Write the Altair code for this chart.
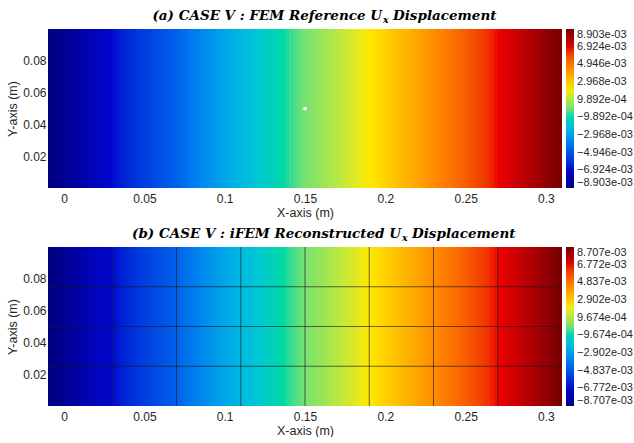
import altair as alt
import numpy as np
import pandas as pd

# Plate extent (m)
x_min, x_max = -0.01, 0.31
y_min, y_max = 0.0, 0.1

# U_x displacement (x 1e-3 m) sampled along the plate length, one value per strip
ux_fem_e3 = [
    -8.83, -8.69, -8.56, -8.42, -8.28, -8.14, -8.00, -7.86,
    -7.72, -7.58, -7.44, -7.30, -7.16, -7.02, -6.89, -6.75,
    -6.61, -6.47, -6.33, -6.19, -6.05, -5.91, -5.77, -5.63,
    -5.49, -5.36, -5.22, -5.08, -4.94, -4.80, -4.66, -4.52,
    -4.38, -4.24, -4.10, -3.96, -3.83, -3.69, -3.55, -3.41,
    -3.27, -3.13, -2.99, -2.85, -2.71, -2.57, -2.43, -2.30,
    -2.16, -2.02, -1.88, -1.74, -1.60, -1.46, -1.32, -1.18,
    -1.04, -0.90, -0.77, -0.63, -0.49, -0.35, -0.21, -0.07,
    0.07, 0.21, 0.35, 0.49, 0.63, 0.77, 0.90, 1.04,
    1.18, 1.32, 1.46, 1.60, 1.74, 1.88, 2.02, 2.16,
    2.30, 2.43, 2.57, 2.71, 2.85, 2.99, 3.13, 3.27,
    3.41, 3.55, 3.69, 3.83, 3.96, 4.10, 4.24, 4.38,
    4.52, 4.66, 4.80, 4.94, 5.08, 5.22, 5.36, 5.49,
    5.63, 5.77, 5.91, 6.05, 6.19, 6.33, 6.47, 6.61,
    6.75, 6.89, 7.02, 7.16, 7.30, 7.44, 7.58, 7.72,
    7.86, 8.00, 8.14, 8.28, 8.42, 8.56, 8.69, 8.83,
]
ux_ifem_e3 = [
    -8.64, -8.50, -8.37, -8.23, -8.09, -7.96, -7.82, -7.69,
    -7.55, -7.41, -7.28, -7.14, -7.01, -6.87, -6.73, -6.60,
    -6.46, -6.33, -6.19, -6.05, -5.92, -5.78, -5.65, -5.51,
    -5.37, -5.24, -5.10, -4.97, -4.83, -4.69, -4.56, -4.42,
    -4.29, -4.15, -4.01, -3.88, -3.74, -3.61, -3.47, -3.33,
    -3.20, -3.06, -2.93, -2.79, -2.65, -2.52, -2.38, -2.24,
    -2.11, -1.97, -1.84, -1.70, -1.56, -1.43, -1.29, -1.16,
    -1.02, -0.88, -0.75, -0.61, -0.48, -0.34, -0.20, -0.07,
    0.07, 0.20, 0.34, 0.48, 0.61, 0.75, 0.88, 1.02,
    1.16, 1.29, 1.43, 1.56, 1.70, 1.84, 1.97, 2.11,
    2.24, 2.38, 2.52, 2.65, 2.79, 2.93, 3.06, 3.20,
    3.33, 3.47, 3.61, 3.74, 3.88, 4.01, 4.15, 4.29,
    4.42, 4.56, 4.69, 4.83, 4.97, 5.10, 5.24, 5.37,
    5.51, 5.65, 5.78, 5.92, 6.05, 6.19, 6.33, 6.46,
    6.60, 6.73, 6.87, 7.01, 7.14, 7.28, 7.41, 7.55,
    7.69, 7.82, 7.96, 8.09, 8.23, 8.37, 8.50, 8.64,
]

fem_limit = 8.903e-3
ifem_limit = 8.707e-3

fem_ticks = [-8.903e-3, -6.924e-3, -4.946e-3, -2.968e-3, -9.892e-4,
             9.892e-4, 2.968e-3, 4.946e-3, 6.924e-3, 8.903e-3]
ifem_ticks = [-8.707e-3, -6.772e-3, -4.837e-3, -2.902e-3, -9.674e-4,
              9.674e-4, 2.902e-3, 4.837e-3, 6.772e-3, 8.707e-3]

# iFEM element boundaries (m)
mesh_x = [0.03, 0.07, 0.11, 0.15, 0.19, 0.23, 0.27]
mesh_y = [0.025, 0.05, 0.075]

# sensor location
sensor_x = [0.15]
sensor_y = [0.05]

x_ticks = [0, 0.05, 0.1, 0.15, 0.2, 0.25, 0.3]
y_ticks = [0.02, 0.04, 0.06, 0.08]

# panel titles: text before the subscript, the subscript, text after it
title_a = ["(a) CASE V : FEM Reference U", "x", "Displacement"]
title_b = ["(b) CASE V : iFEM Reconstructed U", "x", "Displacement"]

jet_colors = ["#000080", "#0008D0", "#0060E8", "#00B8E0", "#78E070",
              "#FFE800", "#FF8C00", "#EE0000", "#780000"]

W, H = 514, 159
SANS = "Liberation Sans"
SERIF = "DejaVu Serif"
TEXT = "#262626"


def strips(values_e3):
    edges = np.linspace(x_min, x_max, len(values_e3) + 1)
    # each strip runs slightly under its right neighbour so no seams show
    right = np.minimum(edges[1:] + 0.001, x_max)
    return pd.DataFrame({
        "x0": edges[:-1],
        "x1": right,
        "y0": y_min,
        "y1": y_max,
        "ux": np.array(values_e3) * 1e-3,
    })


def title_marks(parts, split_px):
    """Panel heading drawn above the plot, with a true subscript."""
    head, sub, tail = parts
    style = dict(font=SERIF, fontStyle="italic", fontWeight="bold",
                 color="black", baseline="alphabetic")
    one = pd.DataFrame({"k": [0]})
    t1 = alt.Chart(one).mark_text(text=head, fontSize=13.5, align="right", **style).encode(
        x=alt.value(split_px), y=alt.value(-9.5))
    t2 = alt.Chart(one).mark_text(text=sub, fontSize=9.5, align="left", **style).encode(
        x=alt.value(split_px + 1), y=alt.value(-6.5))
    t3 = alt.Chart(one).mark_text(text=tail, fontSize=13.5, align="left", **style).encode(
        x=alt.value(split_px + 11), y=alt.value(-9.5))
    return [t1, t2, t3]


def panel(values_e3, limit, ticks, title_parts, split_px, mesh):
    xs = alt.Scale(domain=[x_min, x_max], nice=False, zero=False)
    ys = alt.Scale(domain=[y_min, y_max], nice=False, zero=False)
    cs = alt.Scale(domain=list(np.linspace(-limit, limit, len(jet_colors))),
                   range=jet_colors, clamp=True)

    base = alt.Chart(strips(values_e3))
    field = base.mark_rect().encode(
        x=alt.X("x0:Q", scale=xs,
                axis=alt.Axis(values=x_ticks, format="~g", title="X-axis (m)",
                              labelPadding=5, titlePadding=2)),
        x2="x1:Q",
        y=alt.Y("y0:Q", scale=ys,
                axis=alt.Axis(values=y_ticks, format=".2f", title="Y-axis (m)",
                              labelPadding=2, titlePadding=3)),
        y2="y1:Q",
        color=alt.Color("ux:Q", scale=cs,
                        legend=alt.Legend(
                            type="gradient", title=None, values=ticks,
                            gradientLength=H, gradientThickness=8, offset=4,
                            labelOffset=3, labelBaseline="middle",
                            labelExpr="replace(format(datum.value, '.3e'), 'e-', 'e-0')")),
    )
    layers = [field]
    if mesh:
        vlines = alt.Chart(pd.DataFrame({"mx": mesh_x})).mark_rule(
            color="#1a1a1a", strokeWidth=0.8, opacity=0.8).encode(
            x=alt.X("mx:Q", scale=xs))
        hlines = alt.Chart(pd.DataFrame({"my": mesh_y})).mark_rule(
            color="#1a1a1a", strokeWidth=0.8, opacity=0.8).encode(
            y=alt.Y("my:Q", scale=ys))
        layers += [vlines, hlines]
    else:
        dot = alt.Chart(pd.DataFrame({"sx": sensor_x, "sy": sensor_y})).mark_point(
            filled=True, color="white", size=14, opacity=1).encode(
            x=alt.X("sx:Q", scale=xs), y=alt.Y("sy:Q", scale=ys))
        layers.append(dot)
    layers += title_marks(title_parts, split_px)

    return alt.layer(*layers).properties(width=W, height=H)


top = panel(ux_fem_e3, fem_limit, fem_ticks, title_a, 334, mesh=False)
bottom = panel(ux_ifem_e3, ifem_limit, ifem_ticks, title_b, 353, mesh=True)

chart = alt.vconcat(top, bottom, spacing=7).resolve_scale(
    color="independent"
).properties(
    padding={"left": 6, "top": 8, "right": 0, "bottom": 0},
    background="white",
).configure_axis(
    labelFont=SANS, labelFontSize=12, labelColor=TEXT,
    titleFont=SANS, titleFontSize=12.5, titleFontWeight="normal", titleColor=TEXT,
    domain=False, ticks=False, tickSize=0, grid=False,
).configure_legend(
    labelFont=SANS, labelFontSize=11, labelColor=TEXT,
).configure_view(strokeWidth=0)

chart.save("out.html", embed_options={"renderer": "svg", "actions": False})
